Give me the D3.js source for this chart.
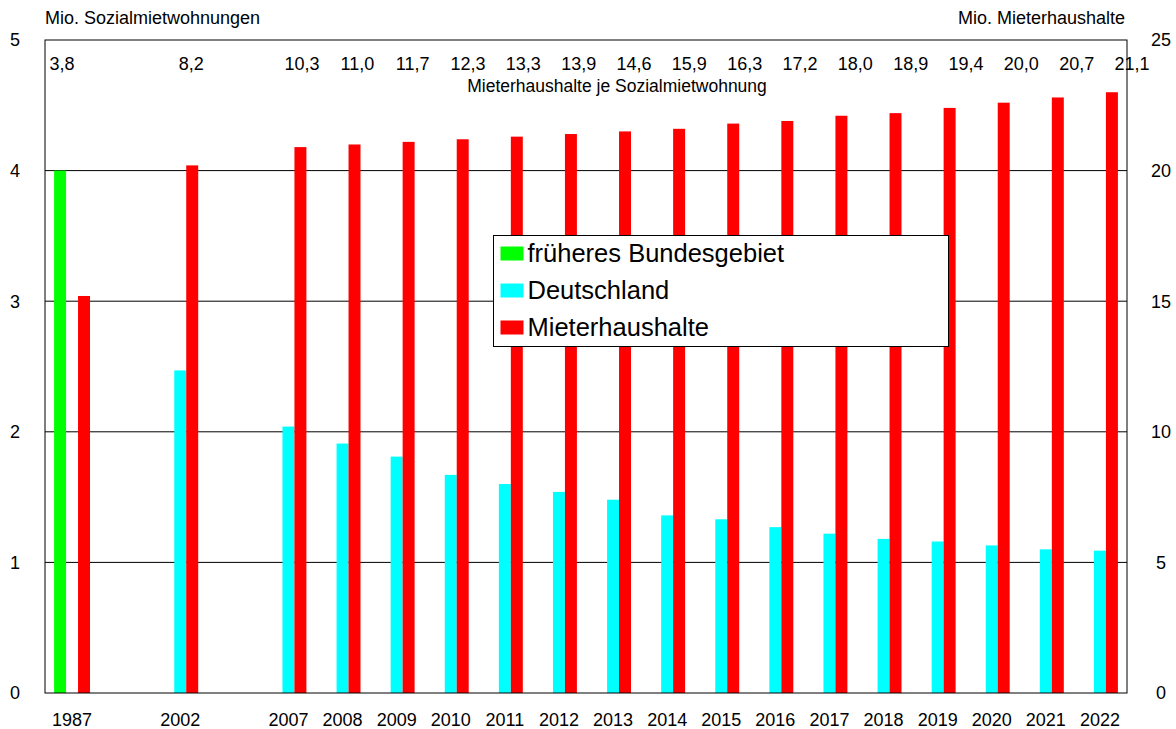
<!DOCTYPE html>
<html>
<head>
<meta charset="utf-8">
<script src="https://cdn.jsdelivr.net/npm/d3@7"></script>
<style>
  body { margin: 0; background: #fff; }
  svg { display: block; font-family: Arial, 'Liberation Sans', sans-serif; }
</style>
</head>
<body>
<div id="chart"></div>
<script>
// categories (empty string = gap slot)
const categories = ['1987', '', '2002', '', '2007', '2008', '2009', '2010', '2011', '2012',
  '2013', '2014', '2015', '2016', '2017', '2018', '2019', '2020', '2021', '2022'];

// Mio. Sozialmietwohnungen (left axis)
const bundesgebiet = [4.0, null, null, null, null, null, null, null, null, null,
  null, null, null, null, null, null, null, null, null, null];
const deutschland = [null, null, 2.47, null, 2.04, 1.91, 1.81, 1.67, 1.60, 1.54,
  1.48, 1.36, 1.33, 1.27, 1.22, 1.18, 1.16, 1.13, 1.10, 1.09];

// Mio. Mieterhaushalte (right axis)
const mieterhaushalte = [15.2, null, 20.2, null, 20.9, 21.0, 21.1, 21.2, 21.3, 21.4,
  21.5, 21.6, 21.8, 21.9, 22.1, 22.2, 22.4, 22.6, 22.8, 23.0];

// Mieterhaushalte je Sozialmietwohnung
const ratioLabels = ['3,8', '', '8,2', '', '10,3', '11,0', '11,7', '12,3', '13,3', '13,9',
  '14,6', '15,9', '16,3', '17,2', '18,0', '18,9', '19,4', '20,0', '20,7', '21,1'];

const leftTicks = [0, 1, 2, 3, 4, 5];
const rightTicks = [0, 5, 10, 15, 20, 25];

const seriesNames = ['früheres Bundesgebiet', 'Deutschland', 'Mieterhaushalte'];
const seriesColors = ['#00ff00', '#00ffff', '#ff0000'];

const width = 1176, height = 729;
const margin = { top: 40, left: 45, right: 49, bottom: 36 };
const chartW = width - margin.left - margin.right;
const chartH = height - margin.top - margin.bottom;

const svg = d3.select('#chart').append('svg')
  .attr('width', width).attr('height', height);

const g = svg.append('g')
  .attr('transform', `translate(${margin.left},${margin.top})`);

let x = d3.scaleBand().domain(d3.range(categories.length)).range([0, chartW]);
let xs = d3.scaleBand().domain(seriesNames).range([0, x.bandwidth()]).paddingOuter(0.76);
let yL = d3.scaleLinear().domain([0, 5]).range([chartH, 0]);
let yR = d3.scaleLinear().domain([0, 25]).range([chartH, 0]);

// grid lines
g.selectAll('.grid')
  .data(leftTicks.slice(1, -1))
  .enter().append('line')
  .attr('x1', 0).attr('x2', chartW)
  .attr('y1', d => yL(d)).attr('y2', d => yL(d))
  .attr('stroke', '#000').attr('stroke-width', 1);

// bars
let rows = [];
categories.forEach((c, i) => {
  if (bundesgebiet[i] != null) rows.push({ i, s: seriesNames[0], v: bundesgebiet[i], y: yL });
  if (deutschland[i] != null) rows.push({ i, s: seriesNames[1], v: deutschland[i], y: yL });
  if (mieterhaushalte[i] != null) rows.push({ i, s: seriesNames[2], v: mieterhaushalte[i], y: yR });
});

g.selectAll('.bar')
  .data(rows)
  .enter().append('rect')
  .attr('class', 'bar')
  .attr('x', d => x(d.i) + xs(d.s))
  .attr('width', xs.bandwidth())
  .attr('y', d => d.y(d.v))
  .attr('height', d => chartH - d.y(d.v))
  .attr('fill', d => seriesColors[seriesNames.indexOf(d.s)]);

// frame
g.append('rect')
  .attr('x', 0).attr('y', 0).attr('width', chartW).attr('height', chartH)
  .attr('fill', 'none').attr('stroke', '#000').attr('stroke-width', 1);

// left axis labels
svg.selectAll('.ly')
  .data(leftTicks)
  .enter().append('text')
  .attr('x', 15).attr('y', d => margin.top + yL(d))
  .attr('dy', '0.35em').attr('text-anchor', 'middle')
  .attr('font-size', 18).text(d => d);

// right axis labels
svg.selectAll('.ry')
  .data(rightTicks)
  .enter().append('text')
  .attr('x', 1161).attr('y', d => margin.top + yR(d))
  .attr('dy', '0.35em').attr('text-anchor', 'middle')
  .attr('font-size', 18).text(d => d);

// x labels
svg.selectAll('.xl')
  .data(categories)
  .enter().append('text')
  .attr('x', (d, i) => margin.left + x(i) + x.bandwidth() / 2)
  .attr('y', 726)
  .attr('text-anchor', 'middle')
  .attr('font-size', 18).text(d => d);

// ratio labels across the top
let labelX = d3.scaleLinear().domain([4, 19]).range([302, 1132]);
svg.selectAll('.ratio')
  .data(ratioLabels)
  .enter().append('text')
  .attr('x', (d, i) => i === 0 ? 62 : labelX(i))
  .attr('y', 70)
  .attr('text-anchor', 'middle')
  .attr('font-size', 18).text(d => d);

svg.append('text')
  .attr('x', 617).attr('y', 92)
  .attr('text-anchor', 'middle').attr('font-size', 17.5)
  .text('Mieterhaushalte je Sozialmietwohnung');

// axis titles
svg.append('text')
  .attr('x', 45).attr('y', 24).attr('font-size', 18)
  .text('Mio. Sozialmietwohnungen');
svg.append('text')
  .attr('x', 1125).attr('y', 24).attr('font-size', 18)
  .attr('text-anchor', 'end')
  .text('Mio. Mieterhaushalte');

// legend
let legend = svg.append('g')
  .attr('class', 'legend')
  .attr('transform', 'translate(493.5, 235.5)');

legend.append('rect')
  .attr('width', 455).attr('height', 111)
  .attr('fill', '#fff').attr('stroke', '#000').attr('stroke-width', 1);

legend.selectAll('.legend-item')
  .data(seriesNames)
  .enter().append('g')
  .attr('class', 'legend-item')
  .attr('transform', (d, i) => `translate(7, ${18 + i * 37})`)
  .each(function (d, i) {
    let item = d3.select(this);
    item.append('rect')
      .attr('x', 0).attr('y', -7).attr('width', 23).attr('height', 14)
      .attr('fill', seriesColors[i]);
    item.append('text')
      .attr('x', 27).attr('y', 0).attr('dy', '0.35em')
      .attr('font-size', 25.5).text(d);
  });
</script>
</body>
</html>
